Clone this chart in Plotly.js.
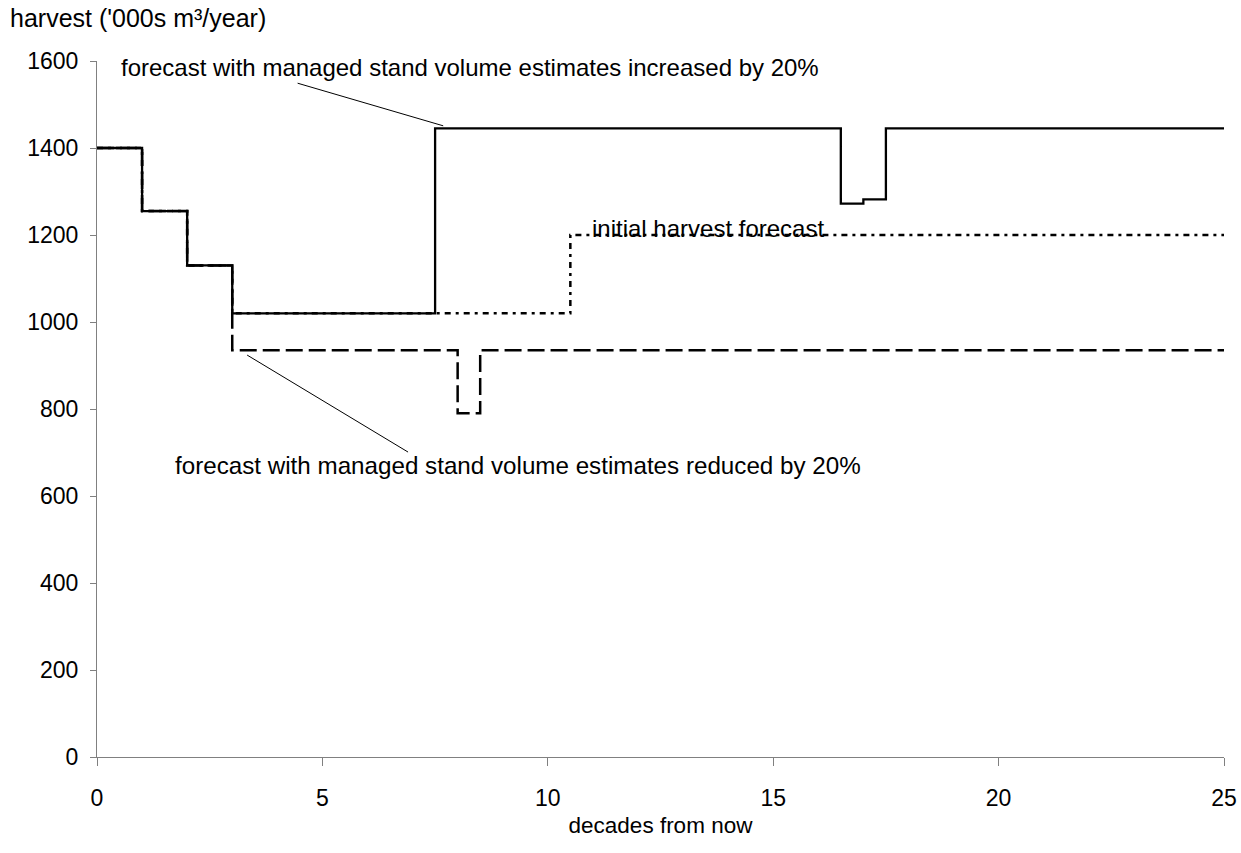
<!DOCTYPE html>
<html>
<head>
<meta charset="utf-8">
<script src="https://cdn.plot.ly/plotly-3.0.1.min.js"></script>
<style>
  html, body { margin: 0; padding: 0; background: #ffffff; }
  #chart { width: 1241px; height: 853px; }
</style>
</head>
<body>
<div id="chart"></div>
<script>
// Harvest forecasts, step values per period start (decades from now)
const increasedDecades = [0, 1, 2, 3, 7.5, 16.5, 17, 17.5, 25];
const increasedHarvest = [1400, 1255, 1130, 1020, 1445, 1272, 1282, 1445, 1445];

const initialDecades = [0, 1, 2, 3, 10.5, 25];
const initialHarvest = [1400, 1255, 1130, 1020, 1200, 1200];

const reducedDecades = [0, 1, 2, 3, 8, 8.5, 25];
const reducedHarvest = [1400, 1255, 1130, 935, 790, 935, 935];

const xTicks = [0, 5, 10, 15, 20, 25];
const yTicks = [0, 200, 400, 600, 800, 1000, 1200, 1400, 1600];

const labelIncreased = "forecast with managed stand volume estimates increased by 20%";
const labelInitial = "initial harvest forecast";
const labelReduced = "forecast with managed stand volume estimates reduced by 20%";

const FONT = "Liberation Sans, Arial, sans-serif";
const AXIS_GREY = "#808080";

const traces = [
  {
    x: reducedDecades, y: reducedHarvest, type: "scatter", mode: "lines",
    line: { shape: "hv", color: "#000000", width: 2.5, dash: "17px,6px" },
    hoverinfo: "skip"
  },
  {
    x: initialDecades, y: initialHarvest, type: "scatter", mode: "lines",
    line: { shape: "hv", color: "#000000", width: 2.5, dash: "6px,5px,3px,5px" },
    hoverinfo: "skip"
  },
  {
    x: increasedDecades, y: increasedHarvest, type: "scatter", mode: "lines",
    line: { shape: "hv", color: "#000000", width: 2.3 },
    hoverinfo: "skip"
  }
];

const layout = {
  width: 1241, height: 853,
  margin: { l: 97, r: 17, t: 61, b: 96 },
  paper_bgcolor: "#ffffff", plot_bgcolor: "#ffffff",
  showlegend: false,
  font: { family: FONT, size: 23, color: "#000000" },
  xaxis: {
    range: [0, 25], tickvals: xTicks, ticktext: xTicks.map(String),
    ticks: "outside", ticklen: 8, tickcolor: AXIS_GREY, tickwidth: 1,
    showline: true, linecolor: AXIS_GREY, linewidth: 1,
    showgrid: false, zeroline: false,
    ticklabelstandoff: 12,
    tickfont: { family: FONT, size: 23 },
    title: { text: "decades from now", font: { family: FONT, size: 22.5 }, standoff: 7 }
  },
  yaxis: {
    range: [0, 1600], tickvals: yTicks, ticktext: yTicks.map(String),
    ticks: "outside", ticklen: 6, tickcolor: AXIS_GREY, tickwidth: 1,
    showline: true, linecolor: AXIS_GREY, linewidth: 1,
    showgrid: false, zeroline: false,
    ticklabelstandoff: 7,
    tickfont: { family: FONT, size: 23 }
  },
  // thin leader lines joining the captions to their forecasts
  shapes: [
    { type: "line", xref: "x", yref: "y", x0: 4.45, y0: 1549, x1: 7.68, y1: 1451,
      line: { color: "#000000", width: 1 } },
    { type: "line", xref: "x", yref: "y", x0: 3.33, y0: 924, x1: 6.9, y1: 701,
      line: { color: "#000000", width: 1 } }
  ],
  annotations: [
    { text: "harvest ('000s m³/year)", xref: "paper", yref: "paper", x: 0, y: 1,
      xshift: -89, yshift: 43, xanchor: "left", yanchor: "middle", showarrow: false,
      font: { family: FONT, size: 25 } },
    { text: labelIncreased, xref: "x", yref: "y", x: 0.49, y: 1585,
      xanchor: "left", yanchor: "middle", showarrow: false,
      font: { family: FONT, size: 24 } },
    { text: labelInitial, xref: "x", yref: "y", x: 10.93, y: 1216,
      xanchor: "left", yanchor: "middle", showarrow: false,
      font: { family: FONT, size: 24 } },
    { text: labelReduced, xref: "x", yref: "y", x: 1.68, y: 669,
      xanchor: "left", yanchor: "middle", showarrow: false,
      font: { family: FONT, size: 24.2 } }
  ]
};

Plotly.newPlot("chart", traces, layout, { staticPlot: true, displayModeBar: false });
</script>
</body>
</html>
